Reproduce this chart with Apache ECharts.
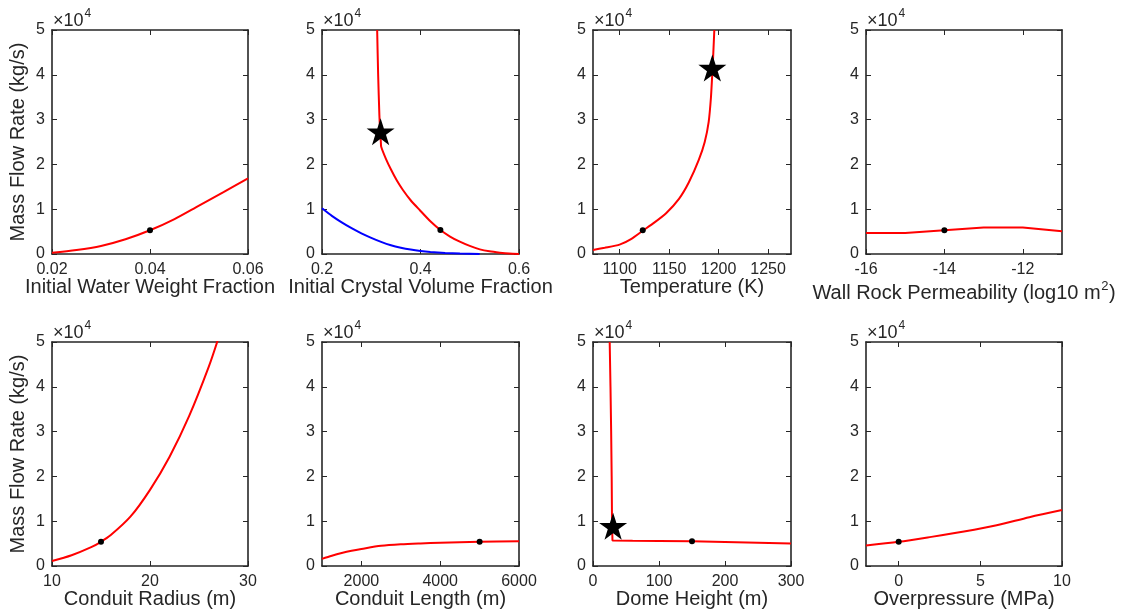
<!DOCTYPE html>
<html>
<head>
<meta charset="utf-8">
<script src="https://cdn.jsdelivr.net/npm/echarts@6/dist/echarts.min.js"></script>
<style>
  html, body { margin: 0; padding: 0; background: #fff; }
  #main { width: 1121px; height: 616px; }
</style>
</head>
<body>
<div id="main"></div>
<script>
// ─── данные (кг/с) ─────────────────────────────────────────────────────────
const yTicks = [0, 10000, 20000, 30000, 40000, 50000];

// 1. Initial Water Weight Fraction
const waterTicks = [0.02, 0.04, 0.06];
const waterX = [0.02, 0.025, 0.03, 0.035, 0.04, 0.045, 0.05, 0.055, 0.06];
const waterY = [300, 900, 1800, 3300, 5300, 7800, 10800, 13800, 16900];
const waterDot = [0.04, 5300];

// 2. Initial Crystal Volume Fraction
const crystTicks = [0.2, 0.4, 0.6];
const crystX = [0.312, 0.314, 0.3165, 0.318, 0.3195, 0.3202, 0.33, 0.3406, 0.352, 0.3643, 0.38, 0.3983, 0.42, 0.4404, 0.46, 0.4798, 0.50, 0.5205, 0.54, 0.5612, 0.58, 0.60];
const crystY = [50000, 40000, 31000, 27500, 25000, 23950, 21200, 18750, 16400, 14290, 12000, 9820, 7300, 5357, 3900, 2750, 1800, 1040, 600, 300, 100, 0];
const crystBlueX = [0.2, 0.22, 0.24, 0.26, 0.28, 0.30, 0.32, 0.34, 0.36, 0.38, 0.40, 0.42, 0.45, 0.48, 0.52];
const crystBlueY = [10200, 8500, 7050, 5750, 4600, 3600, 2700, 1950, 1400, 980, 670, 450, 230, 90, 0];
const crystDot = [0.4404, 5357];
const crystStar = [0.319, 27300];

// 3. Temperature (K)
const tempTicks = [1100, 1150, 1200, 1250];
const tempX = [1073.15, 1085, 1100, 1112, 1123.4, 1135, 1147, 1160, 1170, 1180, 1186, 1190, 1192.3, 1193.7, 1194.7, 1195.7];
const tempY = [900, 1400, 2100, 3400, 5200, 7000, 9100, 12300, 16000, 21000, 25000, 29500, 35000, 40500, 45000, 50000];
const tempDot = [1123.4, 5300];
const tempStar = [1193.7, 41500];

// 4. Wall Rock Permeability (log10 m^2)
const permTicks = [-16, -14, -12];
const permX = [-16, -15, -14, -13, -12, -11];
const permY = [4700, 4700, 5300, 5900, 5900, 5100];
const permDot = [-14, 5300];

// 5. Conduit Radius (m)
const radTicks = [10, 20, 30];
const radX = [10, 12, 14, 15, 16, 18, 20, 22, 24, 26, 27];
const radY = [1100, 2400, 4200, 5400, 6900, 11000, 17000, 24400, 33500, 44500, 51000];
const radDot = [15, 5400];

// 6. Conduit Length (m)
const lenTicks = [2000, 4000, 6000];
const lenX = [1000, 1250, 1500, 1750, 2000, 2500, 3000, 3500, 4000, 5000, 6000];
const lenY = [1600, 2300, 2900, 3400, 3800, 4500, 4850, 5050, 5200, 5400, 5550];
const lenDot = [5000, 5400];

// 7. Dome Height (m)
const domeTicks = [0, 100, 200, 300];
const domeX = [25.3, 26.5, 27.5, 28.3, 28.8, 29.5, 60, 100, 150, 200, 250, 300];
const domeY = [50000, 40000, 30000, 20000, 10000, 5700, 5650, 5600, 5500, 5350, 5200, 5050];
const domeDot = [150, 5500];
const domeStar = [30.5, 8900];

// 8. Overpressure (MPa)
const opTicks = [0, 5, 10];
const opX = [-2, 0, 2, 4, 6, 8, 10];
const opY = [4600, 5400, 6500, 7700, 9100, 10900, 12500];
const opDot = [0, 5400];

// ─── оформление ────────────────────────────────────────────────────────────
const FONT = '"Liberation Sans", Arial, Helvetica, sans-serif';
const INK = '#262626';
const colLeft = [52, 322, 593, 866];
const colWidth = [196, 197, 198, 196];
const rowTop = [30, 342];
const plotH = 224;
const STAR = 'path://M50,0L61.2,34.5L97.6,34.5L68.2,55.9L79.4,90.5L50,69.1L20.6,90.5L31.8,55.9L2.4,34.5L38.8,34.5Z';

function zip(xs, ys) { return xs.map(function (x, i) { return [x, ys[i]]; }); }

const panels = [
  { title: 'Initial Water Weight Fraction', min: 0.02, max: 0.06, ticks: waterTicks, red: zip(waterX, waterY), smooth: 0.3, dot: waterDot },
  { title: 'Initial Crystal Volume Fraction', min: 0.2, max: 0.6, ticks: crystTicks, red: zip(crystX, crystY), smooth: 0.2, blue: zip(crystBlueX, crystBlueY), dot: crystDot, star: crystStar },
  { title: 'Temperature (K)', min: 1073.15, max: 1273.15, ticks: tempTicks, red: zip(tempX, tempY), smooth: 0.2, dot: tempDot, star: tempStar },
  { title: '', min: -16, max: -11, ticks: permTicks, red: zip(permX, permY), smooth: false, dot: permDot },
  { title: 'Conduit Radius (m)', min: 10, max: 30, ticks: radTicks, red: zip(radX, radY), smooth: 0.3, dot: radDot },
  { title: 'Conduit Length (m)', min: 1000, max: 6000, ticks: lenTicks, red: zip(lenX, lenY), smooth: 0.3, dot: lenDot },
  { title: 'Dome Height (m)', min: 0, max: 300, ticks: domeTicks, red: zip(domeX, domeY), smooth: false, dot: domeDot, star: domeStar },
  { title: 'Overpressure (MPa)', min: -2, max: 10, ticks: opTicks, red: zip(opX, opY), smooth: 0.3, dot: opDot }
];

const measure = (function () {
  const ctx = document.createElement('canvas').getContext('2d');
  return function (text, size) { ctx.font = size + 'px ' + FONT; return ctx.measureText(text).width; };
})();

const grids = [], xAxes = [], yAxes = [], series = [], graphics = [];
const wTimes10 = measure('×10', 18);

panels.forEach(function (p, i) {
  const col = i % 4, row = Math.floor(i / 4);
  grids.push({ left: colLeft[col], top: rowTop[row], width: colWidth[col], height: plotH, outerBoundsMode: 'none' });

  const line = { show: true, onZero: false, lineStyle: { color: INK, width: 1.6 } };
  const tick = function (vals) { return { show: true, inside: true, length: 5, customValues: vals, lineStyle: { color: INK, width: 1 } }; };

  // нижняя ось X
  xAxes.push({
    type: 'value', gridIndex: i, position: 'bottom', min: p.min, max: p.max,
    axisLine: line, axisTick: tick(p.ticks), splitLine: { show: false },
    axisLabel: { customValues: p.ticks, color: INK, fontSize: 16, fontFamily: FONT, margin: 8,
      formatter: function (v) { return String(v); } },
    name: p.title, nameLocation: 'middle', nameGap: 23.5, nameMoveOverlap: false,
    nameTextStyle: { fontSize: 20, fontFamily: FONT, color: INK }
  });
  // верхняя ось X — только зеркальные засечки
  xAxes.push({
    type: 'value', gridIndex: i, position: 'top', min: p.min, max: p.max,
    axisLine: line, axisTick: tick(p.ticks), axisLabel: { show: false }, splitLine: { show: false }
  });
  // левая ось Y
  yAxes.push({
    type: 'value', gridIndex: i, position: 'left', min: 0, max: 50000,
    axisLine: line, axisTick: tick(yTicks), splitLine: { show: false },
    axisLabel: { customValues: yTicks, color: INK, fontSize: 16, fontFamily: FONT, margin: 7, padding: [4, 0, 0, 0],
      formatter: function (v) { return String(v / 10000); } },
    name: col === 0 ? 'Mass Flow Rate (kg/s)' : '', nameLocation: 'middle', nameGap: 24,
    nameTextStyle: { fontSize: 20, fontFamily: FONT, color: INK }
  });
  // правая ось Y
  yAxes.push({
    type: 'value', gridIndex: i, position: 'right', min: 0, max: 50000,
    axisLine: line, axisTick: tick(yTicks), axisLabel: { show: false }, splitLine: { show: false }
  });

  // множитель ×10^4 над каждой осью
  graphics.push({ type: 'text', x: colLeft[col] + 1, y: rowTop[row] - 9.2, silent: true,
    style: { text: '×10', fontSize: 18, fontFamily: FONT, fill: INK, align: 'left', verticalAlign: 'middle' } });
  graphics.push({ type: 'text', x: colLeft[col] + 2 + wTimes10, y: rowTop[row] - 15.9, silent: true,
    style: { text: '4', fontSize: 12, fontFamily: FONT, fill: INK, align: 'left', verticalAlign: 'middle' } });

  const ax = { xAxisIndex: 2 * i, yAxisIndex: 2 * i };
  if (p.blue) {
    series.push(Object.assign({ type: 'line', data: p.blue, showSymbol: false, smooth: 0.2,
      lineStyle: { color: '#0000ff', width: 2 }, z: 2 }, ax));
  }
  series.push(Object.assign({ type: 'line', data: p.red, showSymbol: false,
    smooth: p.smooth, lineStyle: { color: '#ff0000', width: 2 }, z: 3 }, ax));
  series.push(Object.assign({ type: 'scatter', data: [p.dot], symbol: 'circle', symbolSize: 6,
    itemStyle: { color: '#000', opacity: 1 }, z: 4 }, ax));
  if (p.star) {
    series.push(Object.assign({ type: 'scatter', data: [p.star], symbol: STAR, symbolSize: [28, 27],
      itemStyle: { color: '#000', opacity: 1 }, z: 5 }, ax));
  }
});

// подпись оси с верхним индексом: Wall Rock Permeability (log10 m²)
(function () {
  const main = 'Wall Rock Permeability (log10 m';
  const w1 = measure(main, 20), w2 = measure('2', 13), w3 = measure(')', 20);
  const cx = colLeft[3] + colWidth[3] / 2;
  const x0 = cx - (w1 + w2 + 1 + w3) / 2;
  const yMid = rowTop[0] + plotH + 39.5;
  graphics.push({ type: 'text', x: x0, y: yMid, silent: true,
    style: { text: main, fontSize: 20, fontFamily: FONT, fill: INK, align: 'left', verticalAlign: 'middle' } });
  graphics.push({ type: 'text', x: x0 + w1 + 0.5, y: yMid - 7.5, silent: true,
    style: { text: '2', fontSize: 13, fontFamily: FONT, fill: INK, align: 'left', verticalAlign: 'middle' } });
  graphics.push({ type: 'text', x: x0 + w1 + w2 + 1, y: yMid, silent: true,
    style: { text: ')', fontSize: 20, fontFamily: FONT, fill: INK, align: 'left', verticalAlign: 'middle' } });
})();

const chart = echarts.init(document.getElementById('main'));
chart.setOption({
  animation: false,
  backgroundColor: '#fff',
  grid: grids,
  xAxis: xAxes,
  yAxis: yAxes,
  series: series,
  graphic: graphics
});
</script>
</body>
</html>
